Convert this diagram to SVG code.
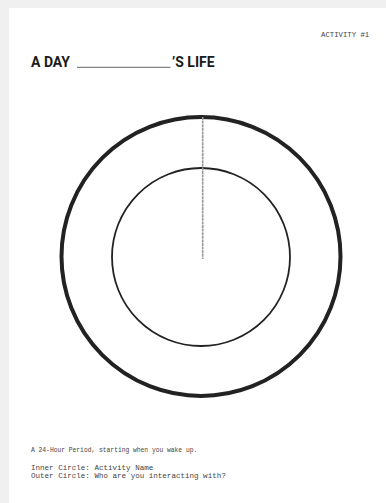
<svg xmlns="http://www.w3.org/2000/svg" width="386" height="503" viewBox="0 0 386 503">
<style>
.mono{font-family:"Liberation Mono","DejaVu Sans Mono",monospace;fill:#444}
.title{font-family:Roboto,"Liberation Sans",sans-serif;font-weight:bold;font-size:14px;fill:#1a1a1a}
</style>
<rect x="0" y="0" width="386" height="503" fill="#f0f0f0"/>
<rect x="9" y="8" width="377" height="495" fill="#ffffff"/>
<g id="header">
<text class="mono" x="321" y="37" font-size="7.3" fill="#555">ACTIVITY #1</text>
<text class="title" x="31" y="67">A DAY</text>
<line x1="77" y1="67.3" x2="170.5" y2="67.3" stroke="#666" stroke-width="1"/>
<text class="title" x="172" y="67">’S LIFE</text>
</g>
<g id="outer-circle">
<circle cx="201" cy="256.5" r="139.5" fill="none" stroke="#222" stroke-width="4"/>
</g>
<g id="inner-circle">
<circle cx="201" cy="257" r="89" fill="none" stroke="#222" stroke-width="1.8"/>
</g>
<g id="connectors">
<line x1="202.7" y1="117" x2="202.7" y2="259" stroke="#999" stroke-width="1.6" stroke-dasharray="3 0.6"/>
</g>
<g id="footer">
<text class="mono" x="31" y="452" font-size="6.3">A 24-Hour Period, starting when you wake up.</text>
<text class="mono" x="31" y="470" font-size="7.55">Inner Circle: Activity Name</text>
<text class="mono" x="31" y="478.3" font-size="7.55">Outer Circle: Who are you interacting with?</text>
</g>
</svg>
